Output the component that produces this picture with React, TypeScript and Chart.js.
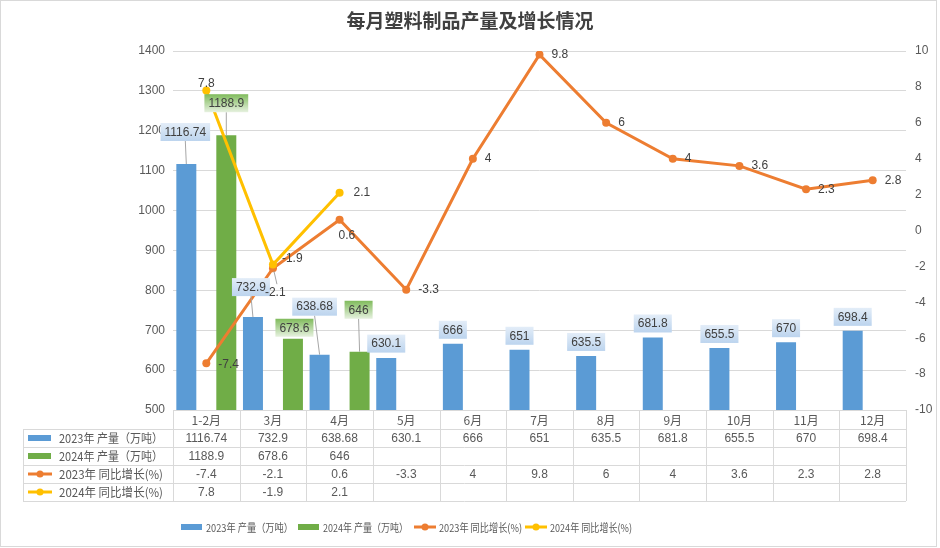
import React, { useEffect, useRef } from "react";
import { Chart, registerables } from "chart.js";

Chart.register(...registerables);

const TITLE = "每月塑料制品产量及增长情况";
const months = ["1-2月", "3月", "4月", "5月", "6月", "7月", "8月", "9月", "10月", "11月", "12月"];
const output2023 = [1116.74, 732.9, 638.68, 630.1, 666, 651, 635.5, 681.8, 655.5, 670, 698.4];
const output2024 = [1188.9, 678.6, 646, null, null, null, null, null, null, null, null];
const growth2023 = [-7.4, -2.1, 0.6, -3.3, 4, 9.8, 6, 4, 3.6, 2.3, 2.8];
const growth2024 = [7.8, -1.9, 2.1, null, null, null, null, null, null, null, null];
const seriesNames = ["2023年 产量（万吨）", "2024年 产量（万吨）", "2023年 同比增长(%)", "2024年 同比增长(%)"];
const leftAxis = { min: 500, max: 1400, step: 100 };
const rightAxis = { min: -10, max: 10, step: 2 };

// styling
const BLUE = "#5B9BD5";
const GREEN = "#70AD47";
const ORANGE = "#ED7D31";
const YELLOW = "#FFC000";
const TEXT = "#595959";
const LABEL_TEXT = "#404040";
const GRID = "#D9D9D9";
const FONT = "'Liberation Sans', 'Noto Sans CJK SC', sans-serif";
const CJK_FONT = "'Noto Sans CJK SC', 'Liberation Sans', sans-serif";

// legend layout: marker x, text max width
const legendMarkerX = [181, 298, 414, 525];
const legendTextMax = [87, 85, 83, 82];

// label placement (dx, dy relative to bar top / point; leader line flag)
const barLabelPos2023: [number, number, boolean][] = [
  [-1, -32, true], [-2, -30, true], [-5, -48, true], [0, -14.5, false],
];
const barLabelPos2024: [number, number, boolean][] = [
  [0, -32, true], [1.5, -11, false], [-1, -42, true],
];
// growth labels: [dx, dy (center), align, leader]
const growthPos2023: [number, number, string, boolean][] = [
  [12, 1, "left", false], [-8, 24, "left", true], [-1, 16, "left", false],
];
const growthPos2024: [number, number, string, boolean][] = [
  [0, -7, "center", false], [9, -6, "left", false], [14, 0, "left", false],
];

const fmt = (v: number | null) => (v === null || v === undefined ? "" : String(v));

export default function App() {
  const ref = useRef<HTMLCanvasElement>(null);

  useEffect(() => {
    const canvas = ref.current!;
    const n = months.length;

    const drawBox = (ctx: CanvasRenderingContext2D, cx: number, cy: number, text: string, kind: "blue" | "green") => {
      ctx.font = `12px ${FONT}`;
      const w = ctx.measureText(text).width + 8;
      const h = 18;
      const x0 = cx - w / 2;
      const y0 = cy - h / 2;
      const g = ctx.createLinearGradient(0, y0, 0, y0 + h);
      if (kind === "blue") {
        g.addColorStop(0, "#e3edf8");
        g.addColorStop(1, "#bcd4ee");
      } else {
        g.addColorStop(0, "#80bb5c");
        g.addColorStop(1, "#e6f1df");
      }
      ctx.fillStyle = g;
      ctx.fillRect(x0, y0, w, h);
      ctx.fillStyle = LABEL_TEXT;
      ctx.textAlign = "center";
      ctx.textBaseline = "middle";
      ctx.fillText(text, cx, cy + 0.5);
    };

    const plugin = {
      id: "custom-draw",
      afterDatasetsDraw(chart: any) {
        const ctx: CanvasRenderingContext2D = chart.ctx;
        ctx.save();
        const barSets: [number, (number | null)[], [number, number, boolean][], "blue" | "green"][] = [
          [0, output2023, barLabelPos2023, "blue"],
          [1, output2024, barLabelPos2024, "green"],
        ];
        for (const [di, values, pos, kind] of barSets) {
          const meta = chart.getDatasetMeta(di);
          values.forEach((v, i) => {
            if (v === null) return;
            const el = meta.data[i];
            const [dx, dy, leader] = pos[i] || [0, -14, false];
            const cx = el.x + dx;
            const cy = el.y + dy;
            if (leader) {
              ctx.strokeStyle = "#a6a6a6";
              ctx.lineWidth = 1;
              ctx.beginPath();
              ctx.moveTo(cx, cy + 9);
              ctx.lineTo(el.x, el.y);
              ctx.stroke();
            }
            drawBox(ctx, cx, cy, fmt(v), kind);
          });
        }
        const lineSets: [number, (number | null)[], [number, number, string, boolean][]][] = [
          [2, growth2023, growthPos2023],
          [3, growth2024, growthPos2024],
        ];
        ctx.font = `12px ${FONT}`;
        for (const [di, values, pos] of lineSets) {
          const meta = chart.getDatasetMeta(di);
          values.forEach((v, i) => {
            if (v === null) return;
            const el = meta.data[i];
            const [dx, dy, align, leader] = pos[i] || [12, 0, "left", false];
            if (leader) {
              ctx.strokeStyle = "#a6a6a6";
              ctx.lineWidth = 1;
              ctx.beginPath();
              ctx.moveTo(el.x + 1, el.y + 3);
              ctx.lineTo(el.x + 4, el.y + dy - 8);
              ctx.stroke();
            }
            ctx.fillStyle = LABEL_TEXT;
            ctx.textAlign = align as CanvasTextAlign;
            ctx.textBaseline = "middle";
            ctx.fillText(fmt(v), el.x + dx, el.y + dy);
          });
        }
        ctx.restore();
      },
      afterDraw(chart: any) {
        const ctx: CanvasRenderingContext2D = chart.ctx;
        const area = chart.chartArea;
        ctx.save();
        // title
        ctx.fillStyle = "#404040";
        ctx.font = `bold 19px ${CJK_FONT}`;
        ctx.textAlign = "center";
        ctx.textBaseline = "middle";
        ctx.fillText(TITLE, 470, 21);

        // data table
        const colW = (area.right - area.left) / n;
        const rows = [area.bottom, area.bottom + 19, area.bottom + 37, area.bottom + 55, area.bottom + 73, area.bottom + 91];
        const tableLeft = 23;
        ctx.strokeStyle = GRID;
        ctx.lineWidth = 1;
        ctx.beginPath();
        ctx.moveTo(area.left, Math.round(rows[0]) + 0.5);
        ctx.lineTo(area.right, Math.round(rows[0]) + 0.5);
        for (let r = 1; r < rows.length; r++) {
          ctx.moveTo(tableLeft, Math.round(rows[r]) + 0.5);
          ctx.lineTo(area.right, Math.round(rows[r]) + 0.5);
        }
        for (let c = 0; c <= n; c++) {
          const x = Math.round(area.left + c * colW) + 0.5;
          ctx.moveTo(x, rows[0]);
          ctx.lineTo(x, rows[5]);
        }
        ctx.moveTo(tableLeft + 0.5, rows[1]);
        ctx.lineTo(tableLeft + 0.5, rows[5]);
        ctx.stroke();

        ctx.textAlign = "center";
        ctx.textBaseline = "middle";
        ctx.fillStyle = TEXT;
        ctx.font = `12px ${CJK_FONT}`;
        months.forEach((m, i) => {
          ctx.fillText(m, area.left + (i + 0.5) * colW, (rows[0] + rows[1]) / 2 + 0.5);
        });
        const tableData = [output2023, output2024, growth2023, growth2024];
        ctx.font = `12px ${FONT}`;
        tableData.forEach((arr, r) => {
          const cy = (rows[r + 1] + rows[r + 2]) / 2 + 0.5;
          arr.forEach((v, i) => {
            ctx.fillText(fmt(v), area.left + (i + 0.5) * colW, cy);
          });
        });

        const drawMarker = (kind: number, x: number, y: number, lw: number) => {
          if (kind === 0 || kind === 1) {
            ctx.fillStyle = kind === 0 ? BLUE : GREEN;
            ctx.fillRect(x, y - 3, lw - 1, 6);
          } else {
            const col = kind === 2 ? ORANGE : YELLOW;
            ctx.strokeStyle = col;
            ctx.lineWidth = 3;
            ctx.beginPath();
            ctx.moveTo(x, y);
            ctx.lineTo(x + lw, y);
            ctx.stroke();
            ctx.fillStyle = col;
            ctx.beginPath();
            ctx.arc(x + lw / 2, y, 3.5, 0, Math.PI * 2);
            ctx.fill();
          }
        };

        seriesNames.forEach((name, r) => {
          const cy = (rows[r + 1] + rows[r + 2]) / 2;
          drawMarker(r, 28, cy, 24);
          ctx.fillStyle = TEXT;
          ctx.font = `12px ${CJK_FONT}`;
          ctx.textAlign = "left";
          ctx.textBaseline = "middle";
          ctx.fillText(name, 59, cy + 0.5, 104);
        });

        // legend
        const ly = 527;
        seriesNames.forEach((name, r) => {
          const lx = legendMarkerX[r];
          drawMarker(r, lx, ly, 22);
          ctx.fillStyle = TEXT;
          ctx.font = `11px ${CJK_FONT}`;
          ctx.textAlign = "left";
          ctx.textBaseline = "middle";
          ctx.fillText(name, lx + 25, ly + 0.5, legendTextMax[r]);
        });

        ctx.strokeStyle = GRID;
        ctx.lineWidth = 1;
        ctx.strokeRect(0.5, 0.5, 936, 546);
        ctx.restore();
      },
    };

    const chart = new Chart(canvas, {
      type: "bar",
      data: {
        labels: months,
        datasets: [
          {
            type: "bar",
            label: seriesNames[0],
            data: output2023,
            backgroundColor: BLUE,
            yAxisID: "y",
            order: 2,
            categoryPercentage: 1.2,
            barPercentage: 0.5,
          },
          {
            type: "bar",
            label: seriesNames[1],
            data: output2024,
            backgroundColor: GREEN,
            yAxisID: "y",
            order: 3,
            categoryPercentage: 1.2,
            barPercentage: 0.5,
          },
          {
            type: "line",
            label: seriesNames[2],
            data: growth2023,
            borderColor: ORANGE,
            backgroundColor: ORANGE,
            borderWidth: 3,
            pointRadius: 4,
            pointBackgroundColor: ORANGE,
            pointBorderWidth: 0,
            tension: 0,
            yAxisID: "y1",
            order: 1,
          },
          {
            type: "line",
            label: seriesNames[3],
            data: growth2024,
            borderColor: YELLOW,
            backgroundColor: YELLOW,
            borderWidth: 3,
            pointRadius: 4,
            pointBackgroundColor: YELLOW,
            pointBorderWidth: 0,
            tension: 0,
            yAxisID: "y1",
            order: 0,
          },
        ] as any,
      },
      options: {
        animation: false,
        responsive: true,
        maintainAspectRatio: false,
        layout: { padding: { top: 51, bottom: 138, left: 0, right: 0 } },
        plugins: {
          legend: { display: false },
          title: { display: false },
          tooltip: { enabled: false },
        },
        scales: {
          x: {
            display: false,
            offset: true,
            grid: { display: false },
          },
          y: {
            position: "left",
            min: leftAxis.min,
            max: leftAxis.max,
            ticks: {
              stepSize: leftAxis.step,
              color: TEXT,
              font: { size: 12, family: FONT },
              padding: 8,
              callback: (v: any) => String(v),
            },
            grid: { color: GRID, drawTicks: false, lineWidth: 1 },
            border: { display: false },
            afterFit: (s: any) => {
              s.width = 173;
            },
          },
          y1: {
            position: "right",
            min: rightAxis.min,
            max: rightAxis.max,
            ticks: {
              stepSize: rightAxis.step,
              color: TEXT,
              font: { size: 12, family: FONT },
              padding: 9,
              callback: (v: any) => String(v),
            },
            grid: { display: false, drawTicks: false },
            border: { display: false },
            afterFit: (s: any) => {
              s.width = 34;
            },
          },
        },
      } as any,
      plugins: [plugin],
    });
    return () => chart.destroy();
  }, []);

  return (
    <div style={{ position: "absolute", left: 0, top: 0, width: 940, height: 548, background: "#fff" }}>
      <canvas ref={ref} />
    </div>
  );
}
